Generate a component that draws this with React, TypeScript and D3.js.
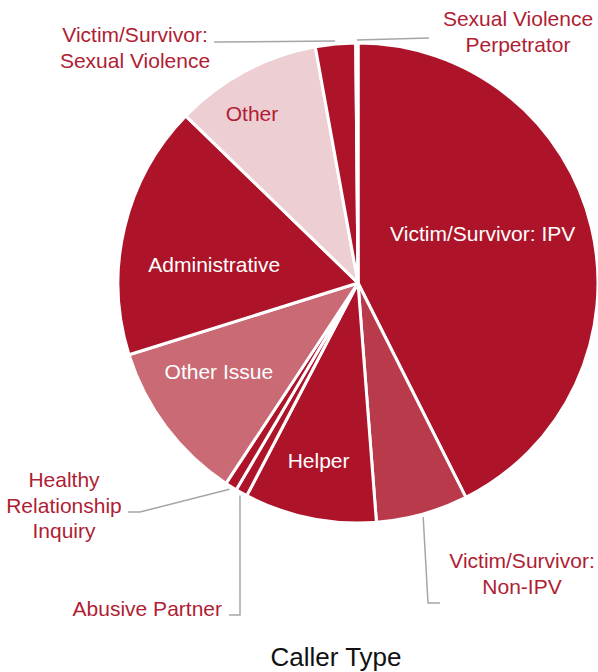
import * as d3 from 'd3'

// Caller type shares (percent), clockwise from 12 o'clock
const categories = [
  'Victim/Survivor: IPV',
  'Victim/Survivor: Non-IPV',
  'Helper',
  'Abusive Partner',
  'Healthy Relationship Inquiry',
  'Other Issue',
  'Administrative',
  'Other',
  'Victim/Survivor: Sexual Violence',
  'Sexual Violence Perpetrator',
]
const values = [42.6, 6.2, 8.9, 0.8, 0.8, 10.9, 17.1, 9.9, 2.7, 0.15]
const sliceColors = [
  '#AE1429', '#B83A4B', '#AE1429', '#AE1429', '#AE1429',
  '#C96A75', '#AE1429', '#EDCED3', '#AE1429', '#AE1429',
]

// label lines, inside labels (white unless on light slice) and outside labels with leaders
const labelLines: string[][] = [
  ['Victim/Survivor: IPV'],
  ['Victim/Survivor:', 'Non-IPV'],
  ['Helper'],
  ['Abusive Partner'],
  ['Healthy', 'Relationship', 'Inquiry'],
  ['Other Issue'],
  ['Administrative'],
  ['Other'],
  ['Victim/Survivor:', 'Sexual Violence'],
  ['Sexual Violence', 'Perpetrator'],
]
const insideLabel = [true, false, true, false, false, true, true, true, false, false]
const title = 'Caller Type'

const W = 598
const H = 672
const cx = 358
const cy = 283
const R = 240
const FONT = '"Liberation Sans", Arial, sans-serif'
const LABEL_RED = '#B01D34'
const LEADER = '#A6A6A6'

// inside label anchors: [angle deg, radius] (Excel-like positions)
const insidePos: Record<number, [number, number]> = {
  0: [68.5, 134],
  2: [192.5, 182],
  5: [237.5, 165],
  6: [277.5, 145],
  7: [328, 200],
}
// outside labels: text center x, first baseline, text anchor, leader elbow and end
const outsideCfg: Record<number, { x: number; y: number; anchor: string; pts: [number, number][] }> = {
  1: { x: 522, y: 568, anchor: 'middle', pts: [[428, 603], [440, 603]] },
  3: { x: 222, y: 616, anchor: 'end', pts: [[240, 615], [229, 615]] },
  4: { x: 64, y: 487, anchor: 'middle', pts: [[140, 512], [128, 512]] },
  8: { x: 135, y: 42, anchor: 'middle', pts: [[214, 42]] },
  9: { x: 518, y: 26, anchor: 'middle', pts: [[429, 38]] },
}

export default function App() {
  const pie = d3.pie<number>().sort(null).startAngle(0).endAngle(2 * Math.PI)
  const arcs = pie(values)
  const arc = d3.arc<d3.PieArcDatum<number>>().innerRadius(0).outerRadius(R)
  const lineGen = d3.line()

  const polar = (deg: number, r: number): [number, number] => {
    const a = (deg * Math.PI) / 180
    return [cx + r * Math.sin(a), cy - r * Math.cos(a)]
  }

  return (
    <svg width={W} height={H} style={{ position: 'absolute', left: 0, top: 0, background: '#fff' }}>
      <g transform={`translate(${cx},${cy})`}>
        {arcs.map((a, i) => (
          <path key={i} d={arc(a) || ''} fill={sliceColors[i]} stroke="#fff" strokeWidth={3} strokeLinejoin="round" />
        ))}
      </g>

      {arcs.map((a, i) => {
        if (!insideLabel[i]) return null
        const [deg, r] = insidePos[i]
        const [x, y] = polar(deg, r)
        return (
          <text key={'in' + i} x={x} y={y + 7.5} textAnchor="middle" fontFamily={FONT} fontSize={21}
            fill={sliceColors[i] === '#EDCED3' ? LABEL_RED : '#fff'}>
            {labelLines[i][0]}
          </text>
        )
      })}

      {arcs.map((a, i) => {
        const cfg = outsideCfg[i]
        if (!cfg) return null
        const mid = (((a.startAngle + a.endAngle) / 2) * 180) / Math.PI
        const start = polar(mid, R + 3)
        const pts: [number, number][] = [start, ...cfg.pts]
        return (
          <g key={'out' + i}>
            <path d={lineGen(pts) || ''} fill="none" stroke={LEADER} strokeWidth={1.5} />
            <text textAnchor={cfg.anchor} fontFamily={FONT} fontSize={21} fill={LABEL_RED}>
              {labelLines[i].map((t, j) => (
                <tspan key={j} x={cfg.x} y={cfg.y + j * 25.5}>{t}</tspan>
              ))}
            </text>
          </g>
        )
      })}

      <text x={336} y={666} textAnchor="middle" fontFamily={FONT} fontSize={26} fill="#111">
        {title}
      </text>
    </svg>
  )
}
